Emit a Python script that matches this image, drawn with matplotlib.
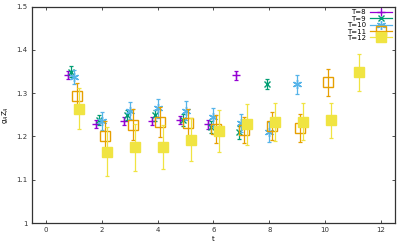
import matplotlib
matplotlib.use("Agg")
import matplotlib.pyplot as plt
from matplotlib.lines import Line2D

labels = ["T=8", "T=9", "T=10", "T=11", "T=12"]
shifts = [-0.2, -0.1, 0.0, 0.1, 0.2]
t8 = [1, 2, 3, 4, 5, 6, 7]
t9 = [1, 2, 3, 4, 5, 6, 7, 8]
t10 = [1, 2, 3, 4, 5, 6, 7, 8, 9]
t11 = [1, 2, 3, 4, 5, 6, 7, 8, 9, 10]
t12 = [1, 2, 3, 4, 5, 6, 7, 8, 9, 10, 11]

y8 = [1.342, 1.228, 1.236, 1.236, 1.238, 1.228, 1.341]
e8 = [0.010, 0.009, 0.010, 0.010, 0.010, 0.010, 0.010]
y9 = [1.350, 1.238, 1.250, 1.249, 1.238, 1.222, 1.210, 1.321]
e9 = [0.012, 0.012, 0.012, 0.013, 0.013, 0.014, 0.015, 0.012]
y10 = [1.338, 1.236, 1.260, 1.265, 1.260, 1.245, 1.231, 1.211, 1.321]
e10 = [0.016, 0.020, 0.020, 0.022, 0.022, 0.022, 0.020, 0.023, 0.022]
y11 = [1.294, 1.201, 1.227, 1.234, 1.232, 1.217, 1.215, 1.225, 1.219, 1.325]
e11 = [0.030, 0.035, 0.036, 0.035, 0.032, 0.032, 0.031, 0.032, 0.032, 0.031]
y12 = [1.264, 1.165, 1.175, 1.176, 1.193, 1.213, 1.228, 1.233, 1.234, 1.237, 1.348]
e12 = [0.047, 0.057, 0.055, 0.050, 0.050, 0.048, 0.047, 0.044, 0.043, 0.041, 0.043]

ts = [t8, t9, t10, t11, t12]
ys = [y8, y9, y10, y11, y12]
es = [e8, e9, e10, e11, e12]

colors = ["#9400d3", "#009e73", "#56b4e9", "#e69f00", "#f0e442"]
markers = ["+", "x", (6, 2, 0), "s", "s"]
msizes = [6, 5, 6.5, 6.5, 6.5]
mfcs = [None, None, None, "none", "#f0e442"]

fig = plt.figure(figsize=(4.07, 2.44), dpi=100)
ax = fig.add_axes([0.0786, 0.086, 0.8919, 0.8865])

handles = []
for t, y, e, s, c, m, ms, mfc, lab in zip(ts, ys, es, shifts, colors, markers, msizes, mfcs, labels):
    x = [v + s for v in t]
    kw = dict(fmt="none", ecolor=c, elinewidth=0.9, capsize=1.3, capthick=0.9)
    ax.errorbar(x, y, yerr=e, **kw)
    ax.plot(x, y, linestyle="none", marker=m, markersize=ms, color=c,
            markerfacecolor=(c if mfc is None else mfc), markeredgewidth=1.0)
    handles.append(Line2D([0], [0], color=c, lw=0.9, marker=m, markersize=ms,
                          markerfacecolor=(c if mfc is None else mfc), markeredgewidth=1.0))

ax.set_xlim(-0.5, 12.5)
ax.set_ylim(1.0, 1.5)
ax.set_xticks([0, 2, 4, 6, 8, 10, 12])
ax.set_yticks([1.0, 1.1, 1.2, 1.3, 1.4, 1.5])
ax.set_yticklabels(["1", "1.1", "1.2", "1.3", "1.4", "1.5"])
ax.tick_params(direction="in", top=True, right=True, labelsize=5, length=2.5,
               width=0.6, colors="#333333", pad=3)
for sp in ax.spines.values():
    sp.set_linewidth(0.9)
    sp.set_color("#333333")
ax.set_xlabel("t", fontsize=5, labelpad=2)
ax.set_ylabel("g$_A$Z$_A$", fontsize=5, labelpad=4)

leg = ax.legend(handles, labels, loc="upper right", fontsize=5, frameon=False,
                markerfirst=False, handlelength=3.2, handletextpad=0.6,
                labelspacing=0.05, borderaxespad=0.2, borderpad=0.2)
for txt in leg.get_texts():
    txt.set_ha("right")

fig.savefig("out.png", dpi=100)
